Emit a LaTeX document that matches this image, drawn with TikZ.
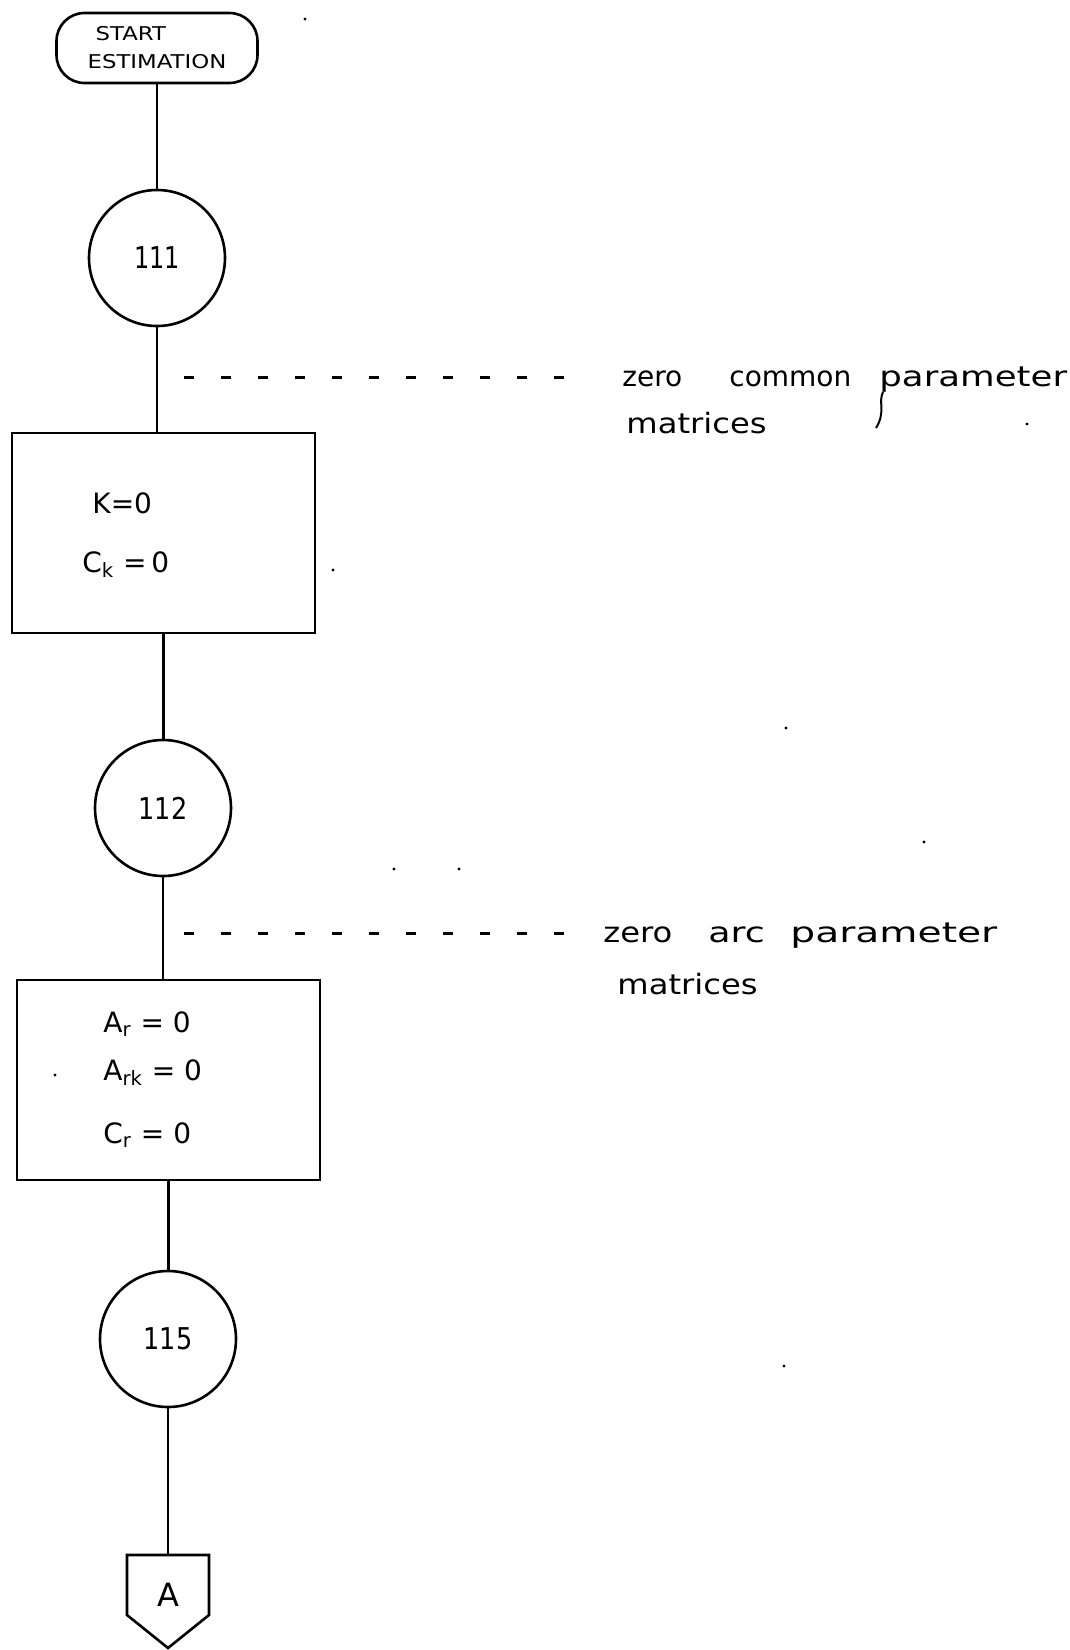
\documentclass[tikz,border=0pt]{standalone}
\usepackage{graphicx}
\usepackage{fontspec}
\setmainfont{DejaVu Sans}
\begin{document}
\begin{tikzpicture}[x=0.5pt,y=-0.5pt,
  flow/.style={line width=1.3pt},
  term/.style={draw, line width=1.3pt, rounded corners=14pt, minimum width=100.5pt, minimum height=35pt, inner sep=0pt, align=left, font=\fontsize{9.5}{14}\selectfont},
  conn/.style={draw, circle, line width=1.3pt, minimum size=68pt, inner sep=0pt, font=\fontsize{15}{18}\selectfont},
  procbox/.style={draw, line width=1.3pt, minimum width=151.5pt, minimum height=100pt, inner sep=0pt},
  eq/.style={anchor=west, inner sep=0pt, font=\fontsize{14}{16}\selectfont},
  note/.style={anchor=base west, inner sep=0pt, font=\fontsize{14}{16}\selectfont},
  leader/.style={line width=1.5pt, dash pattern=on 5pt off 13.5pt},
  speck/.style={fill=black, circle, inner sep=0pt, minimum size=1.6pt}]
\useasboundingbox (0,0) rectangle (1070,1650);

% main chain
\node[term] (start) at (157,48) {\hspace*{4pt}\scalebox{1.2}[1]{START}\\\scalebox{1.2}[1]{ESTIMATION}};
\node[conn] (c111) at (157,258) {\scalebox{0.8}[1]{111}};
\node[procbox] (b1) at (163.5,533) {};
\node[eq] (k) at (92,503) {K=0};
\node[eq] (ck) at (82,565) {C\textsubscript{k} =\,0};
\node[conn] (c112) at (163,808) {\scalebox{0.85}[1]{112}};
\node[procbox] (b2) at (168.5,1080) {};
\node[eq] (ar) at (103,1024) {A\textsubscript{r} = 0};
\node[eq] (ark) at (103,1073) {A\textsubscript{rk} = 0};
\node[eq] (cr) at (103,1135) {C\textsubscript{r} = 0};
\node[conn] (c115) at (168,1339) {\scalebox{0.85}[1]{115}};
\node[font=\fontsize{16}{18}\selectfont] (A) at (168,1595) {A};
\coordinate (Atop) at (168,1555);
\draw[flow] (127,1555) -- (209,1555) -- (209,1615) -- (168,1648) -- (127,1615) -- cycle;

\draw[flow] (start.south) -- (start.south |- c111.north);
\draw[flow] (c111.south) -- (c111.south |- b1.north);
\draw[flow] (b1.south) -- (b1.south |- c112.north);
\draw[flow] (c112.south) -- (c112.south |- b2.north);
\draw[flow] (b2.south) -- (b2.south |- c115.north);
\draw[flow] (c115.south) -- (Atop);

% annotation 1
\coordinate (l1s) at (184,377);
\coordinate (l1e) at (573,377);
\draw[leader] (l1s) -- (l1e);
\node[note] (n1a) at (622,386) {zero};
\node[note] (n1b) at (729,386) {common};
\node[note] (n1c) at (879,386) {\scalebox{1.27}[1]{parameter}};
\node[note] (n1d) at (626,433) {\scalebox{1.15}[1]{matrices}};
\draw[line width=1pt] (883,392) .. controls (878,402) and (886,412) .. (876,428);

% annotation 2
\coordinate (l2s) at (184,933);
\coordinate (l2e) at (573,933);
\draw[leader] (l2s) -- (l2e);
\node[note] (n2a) at (603,942) {\scalebox{1.15}[1]{zero}};
\node[note] (n2b) at (708,942) {\scalebox{1.3}[1]{arc}};
\node[note] (n2c) at (790,942) {\scalebox{1.4}[1]{parameter}};
\node[note] (n2d) at (617,994) {\scalebox{1.15}[1]{matrices}};

% specks
\node[speck] (s1) at (305,19) {};
\node[speck] (s2) at (333,570) {};
\node[speck] (s3) at (1027,424) {};
\node[speck] (s4) at (786,728) {};
\node[speck] (s5) at (924,842) {};
\node[speck] (s6) at (394,869) {};
\node[speck] (s7) at (459,869) {};
\node[speck] (s8) at (55,1075) {};
\node[speck] (s9) at (784,1366) {};
\end{tikzpicture}
\end{document}
